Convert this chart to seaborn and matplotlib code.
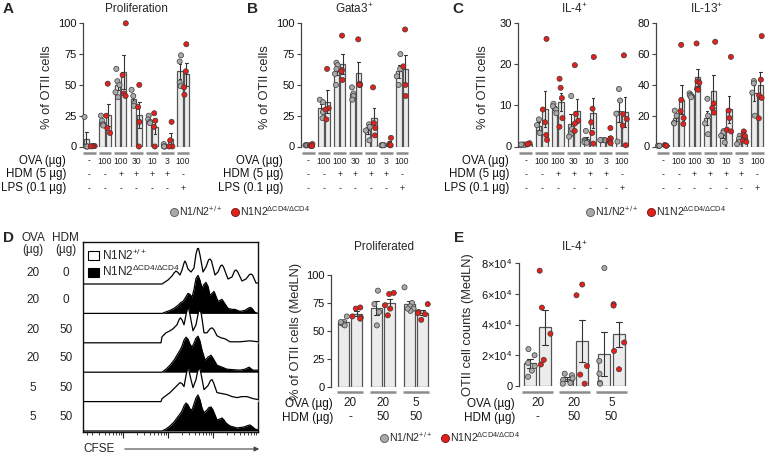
import numpy as np
import pandas as pd
import matplotlib
matplotlib.use('Agg')
import matplotlib.pyplot as plt
import seaborn as sns
from matplotlib.transforms import blended_transform_factory
from matplotlib.lines import Line2D
from matplotlib.patches import Patch

np.random.seed(7)
sns.set_theme(style='white')
plt.rcParams['font.family'] = ['Liberation Sans', 'DejaVu Sans']
plt.rcParams['mathtext.fontset'] = 'custom'
plt.rcParams['mathtext.rm'] = 'Liberation Sans'
plt.rcParams['mathtext.it'] = 'Liberation Sans:italic'
plt.rcParams['mathtext.bf'] = 'Liberation Sans:bold'

# ---------------- data ----------------
genotypes = ['wt', 'ko']
wt_label = r'N1/N2$^{\mathregular{+/+}}$'
ko_label = r'N1N2$^{\mathregular{\Delta CD4/\Delta CD4}}$'

ova_abc = ['-', '100', '100', '30', '10', '3', '100']
hdm_abc = ['-', '-', '+', '+', '+', '+', '-']
lps_abc = ['-', '-', '-', '-', '-', '-', '+']

prolif_wt = [[24, 0, 0, 0], [25, 21, 18, 17], [63, 53, 50, 44, 40], [46, 41, 35, 33],
             [25, 22, 20, 19], [2, 0, 0, 0], [74, 69, 52, 49]]
prolif_ko = [[0.4, 0.3, 0.2, 0.1], [51, 25, 15, 11], [100, 58, 43, 41], [50, 32, 20, 0],
             [27, 21, 16, 0], [20, 5, 0, 0], [83, 61, 48, 42]]
gata3_wt = [[1, 1, 1, 1], [38, 36, 28, 23], [68, 66, 63, 59, 50], [48, 43, 41, 38],
            [18, 16, 13, 5], [1, 1, 1, 1], [75, 63, 57, 50]]
gata3_ko = [[2, 1, 0.5, 0.3], [63, 31, 30, 22], [90, 62, 61, 54], [87, 51, 50, 50],
            [48, 19, 15, 9], [7, 2, 1, 1], [95, 65, 50, 41]]
il4_wt = [[0.5, 0.4, 0.3, 0.5], [6.6, 5.2, 3.3], [10.4, 9.8, 9.0, 8.1], [12.3, 4.3, 3.0, 2.4],
          [3.8, 1.6, 1.3, 1.0, 0.9], [1.6, 1.5, 1.5, 1.6], [14, 11.2, 8, 1.2]]
il4_ko = [[0.8, 0.5, 0.6], [26.2, 9, 5.9, 2.8, 1.6], [16.5, 14.3, 11.8, 6.9, 4.8],
          [19.8, 7.9, 6.3, 5.6, 3.8], [21.8, 9.2, 5.9, 3.3, 0.7], [4.5, 2.0, 1.5, 1.0, 0.8],
          [22.2, 7.9, 6.7, 5.1, 0.3]]
il13_wt = [[0.5, 0.5, 0.5], [23.3, 20, 15.3, 15], [34.5, 33.5, 33, 32], [31, 20, 15, 8],
           [10, 9, 7, 2.6], [7, 5, 3, 1.5], [42.5, 41, 35, 20]]
il13_ko = [[1, 0.5, 0.5], [66, 30.3, 22.9, 18.5, 14.6], [66.9, 42.3, 41.4, 37.5, 36.8],
           [68, 28, 25, 22], [58.2, 23.3, 18.5, 10.9, 9.8], [9.8, 7.5, 6.7, 3.8, 3.0],
           [71.7, 43.4, 33.1, 31.6, 18.3]]

ova_de = ['20', '20', '5']
hdm_de = ['-', '50', '50']
prolifd_wt = [[63, 58, 57, 56, 55, 58], [86, 74, 67, 55], [89, 75, 72, 70, 68, 70]]
prolifd_ko = [[71, 70, 62, 61, 63], [83, 84, 73, 70, 64], [74, 67, 66, 65, 60]]
il4e_wt = [[2.4e4, 2.0e4, 1.5e4, 1.3e4, 1.0e4, 0.6e4], [0.8e4, 0.7e4, 0.4e4, 0.2e4, 0.15e4, 0.5e4],
           [7.67e4, 1.63e4, 0.8e4, 0.2e4, 0.15e4]]
il4e_ko = [[7.5e4, 5.1e4, 3.4e4, 1.7e4, 1.4e4], [6.6e4, 5.9e4, 1.3e4, 0.74e4, 0.15e4],
           [5.32e4, 5.23e4, 2.83e4, 2.28e4, 1.09e4]]

# CFSE histograms (channel, count), rows top -> bottom
hist_ova = ['20', '20', '20', '20', '5', '5']
hist_hdm = ['0', '0', '50', '50', '50', '50']
hist_geno = ['wt', 'ko', 'wt', 'ko', 'wt', 'ko']
hist_x = [
    [0, 79, 82, 85, 89, 91, 93, 95, 97, 99, 101, 102, 103, 105, 108, 111, 113, 114.5, 115.5,
     117, 120, 123, 125.5, 127, 128.5, 132, 135, 137.5, 139, 140.5, 145, 149, 151.5, 153,
     154.5, 159, 163, 166.5, 168, 169.5, 173, 175],
    [0, 79, 83, 87, 91, 95, 98, 100, 102, 105, 107, 109, 111, 113, 115, 117, 119, 121, 123,
     125, 127, 129, 131, 133, 135, 137, 139, 141, 145, 149, 152, 157, 162, 165, 167, 169,
     172, 175],
    [0, 78, 79, 83, 87, 90, 94, 96, 97.5, 99, 101, 103, 104.5, 105.5, 107, 110, 113, 115.5,
     117, 118.5, 121, 124, 127, 129, 131, 134, 138, 142, 147, 152, 157, 162, 167, 171, 175],
    [0, 79, 83, 87, 91, 94, 97, 99, 101, 103, 105, 107, 109, 111, 113, 115, 117, 119, 122,
     125, 128, 130, 134, 139, 144, 150, 157, 162, 166, 170, 175],
    [0, 78, 79, 83, 87, 90, 94, 97, 99, 101, 103, 104.5, 105.5, 107, 110, 113, 115, 116.5,
     118, 121, 125, 127.5, 129, 130.5, 134, 139, 144, 149, 154, 159, 164, 170, 175],
    [0, 79, 83, 87, 91, 94, 97, 99, 101, 103, 105, 107, 109, 111, 113, 115, 117, 119, 121,
     124, 126, 128, 130, 134, 137, 139, 141, 143, 147, 154, 161, 165, 167, 169, 172, 175],
]
hist_y = [
    [0, 0, 2, 4, 8, 11, 13, 11.5, 9, 14, 21, 23, 21, 15, 12, 16, 30, 35.5, 35.5, 29, 12, 17,
     24, 25, 23, 9, 12, 18, 19, 17, 5, 7, 13, 14, 12.5, 3, 5, 9.5, 10, 9, 1, 1],
    [0, 0, 1.5, 3, 5, 8, 11, 12, 15, 20, 19, 16, 24, 35, 38, 33, 25, 29, 31, 27, 18, 20, 22,
     17, 12, 13, 14, 11, 5, 4, 4, 2, 3, 5, 6, 5, 1, 0],
    [0, 0, 6, 10, 12, 14, 18, 23, 25, 23, 18, 28, 35, 35, 28, 12, 18, 31, 33, 28, 10, 10, 14,
     15, 13, 7, 5, 4, 1, 1, 1, 1.5, 2, 1.5, 1],
    [0, 0, 3, 7, 12, 17, 22, 26, 32, 35, 33, 28, 25, 29, 34, 36, 31, 22, 12, 15, 17, 14, 7, 5,
     3, 2.5, 2, 3, 5, 2, 2],
    [0, 0, 3, 6, 9, 12, 16, 19, 18, 15, 26, 33.5, 33.5, 26, 14, 22, 32, 34, 28, 12, 16, 21,
     22, 19, 9, 8, 7, 5, 4, 5, 5, 3, 2],
    [0, 0, 2, 5, 9, 13, 17, 20, 25, 28, 26, 22, 21, 27, 33, 36, 31, 23, 18, 21, 23.5, 24, 21,
     11, 12, 13, 11, 8, 5, 3, 4, 5.5, 6, 4.5, 2, 1],
]

# ---------------- style ----------------
BAR_FILL = '#ececec'
BAR_EDGE = '#555555'
GRAY = '#a9a9a9'
RED = '#e3211c'
PT_EDGE = '#3a3a3a'
AX_COL = '#444444'
ULINE = '#8c8c8c'
YLAB_FS = 9.3

W, H = 767, 459
fig = plt.figure(figsize=(W / 100, H / 100), dpi=100)


def fx(px):
    return px / W


def fy(px):
    return 1 - px / H


def add_ax(l, t, r, b):
    return fig.add_axes([l / W, 1 - b / H, (r - l) / W, (b - t) / H])


def bar_panel(L, c0, pitch, top, bottom, wt, ko, ymax, yticks, yticklabels=None,
              jitter=0.28):
    n = len(wt)
    R = c0 + (n - 0.5) * pitch
    ax = add_ax(L, top, R, bottom)
    rows = []
    for i, (w, k) in enumerate(zip(wt, ko)):
        rows += [(i, 'wt', v) for v in w]
        rows += [(i, 'ko', v) for v in k]
    df = pd.DataFrame(rows, columns=['cond', 'geno', 'val'])
    sns.barplot(data=df, x='cond', y='val', hue='geno', hue_order=genotypes,
                palette={'wt': BAR_FILL, 'ko': BAR_FILL}, errorbar='se', capsize=0.35,
                err_kws={'color': '#333333', 'linewidth': 0.8}, edgecolor=BAR_EDGE,
                linewidth=0.9, gap=0.18, legend=False, ax=ax)
    sns.stripplot(data=df, x='cond', y='val', hue='geno', hue_order=genotypes,
                  palette={'wt': GRAY, 'ko': RED}, dodge=True, jitter=jitter, size=3.7,
                  edgecolor=PT_EDGE, linewidth=0.5, legend=False, ax=ax, zorder=5)
    for c in ax.collections:
        c.set_clip_on(False)
    ax.set_xlim((L - c0) / pitch, n - 0.5)
    ax.set_ylim(0, ymax)
    ax.set_yticks(yticks)
    if yticklabels is not None:
        ax.set_yticklabels(yticklabels)
    ax.set_xticks([])
    ax.set_xlabel('')
    ax.set_ylabel('')
    for s in ['top', 'right', 'bottom']:
        ax.spines[s].set_visible(False)
    ax.spines['left'].set_color(AX_COL)
    ax.spines['left'].set_linewidth(0.9)
    ax.tick_params(axis='y', left=True, length=3, width=0.8, color=AX_COL,
                   labelsize=8, pad=1.5, labelcolor='#111111')
    ax.patch.set_alpha(0)
    return ax


def under_rows(ax, uline_y, rows_y, rows, fs, half=0.41):
    tr = blended_transform_factory(ax.transData, fig.transFigure)
    n = len(rows[0])
    for i in range(n):
        ax.plot([i - half, i + half], [fy(uline_y)] * 2, transform=tr, color=ULINE,
                lw=1.8, clip_on=False, solid_capstyle='butt')
    for ry, vals in zip(rows_y, rows):
        for i, v in enumerate(vals):
            ax.text(i, fy(ry), v, transform=tr, ha='center', va='center', fontsize=fs,
                    color='#222222')


def row_labels(xr, ys, labels, fs=8.3):
    for y, t in zip(ys, labels):
        fig.text(fx(xr), fy(y), t, ha='right', va='center', fontsize=fs, color='#111111')


def dot_legend(x0, y, fs=7.6):
    handles = [Line2D([], [], marker='o', ls='', markersize=5.8, markerfacecolor=GRAY,
                      markeredgecolor='#555555', markeredgewidth=0.6),
               Line2D([], [], marker='o', ls='', markersize=5.8, markerfacecolor=RED,
                      markeredgecolor='#6a1010', markeredgewidth=0.6)]
    fig.legend(handles, [wt_label, ko_label], loc='center left',
               bbox_to_anchor=(fx(x0), fy(y)), ncol=2, frameon=False, fontsize=fs,
               handlelength=0.6, handletextpad=0.15, columnspacing=0.9, borderpad=0,
               borderaxespad=0)


# ---------------- panel A ----------------
axA = bar_panel(83, 89.5, 15.6, 23.3, 146.5, prolif_wt, prolif_ko, 100, [0, 25, 50, 75, 100])
under_rows(axA, 153, [161, 174.5, 188.5], [ova_abc, hdm_abc, lps_abc], 6.2)
row_labels(66, [161, 174.5, 188.5], ['OVA (µg)', 'HDM (5 µg)', 'LPS (0.1 µg)'])
fig.text(fx(136), fy(9), 'Proliferation', ha='center', va='center', fontsize=8.5)
fig.text(fx(47), fy(87), '% of OTII cells', rotation=90, ha='center', va='center',
         fontsize=YLAB_FS)
fig.text(fx(3), fy(9), 'A', ha='left', va='center', fontsize=11, fontweight='bold')

# ---------------- panel B ----------------
axB = bar_panel(301, 308.5, 15.6, 23.3, 146.5, gata3_wt, gata3_ko, 100, [0, 25, 50, 75, 100])
under_rows(axB, 153, [161, 174.5, 188.5], [ova_abc, hdm_abc, lps_abc], 6.2)
row_labels(283, [161, 174.5, 188.5], ['OVA (µg)', 'HDM (5 µg)', 'LPS (0.1 µg)'])
fig.text(fx(354), fy(9), r'Gata3$^{\mathregular{+}}$', ha='center', va='center', fontsize=8.5)
fig.text(fx(265), fy(87), '% of OTII cells', rotation=90, ha='center', va='center',
         fontsize=YLAB_FS)
fig.text(fx(247), fy(9), 'B', ha='left', va='center', fontsize=11, fontweight='bold')
dot_legend(171, 211)

# ---------------- panel C ----------------
axC1 = bar_panel(518, 525.7, 16.0, 23.3, 146.5, il4_wt, il4_ko, 30, [0, 10, 20, 30])
under_rows(axC1, 153, [161, 174.5, 188.5], [ova_abc, hdm_abc, lps_abc], 6.2)
row_labels(509, [161, 174.5, 188.5], ['OVA (µg)', 'HDM (5 µg)', 'LPS (0.1 µg)'])
fig.text(fx(574), fy(9), r'IL-4$^{\mathregular{+}}$', ha='center', va='center', fontsize=8.5)
fig.text(fx(483), fy(87), '% of OTII cells', rotation=90, ha='center', va='center',
         fontsize=YLAB_FS)
fig.text(fx(452), fy(9), 'C', ha='left', va='center', fontsize=11, fontweight='bold')

axC2 = bar_panel(656, 663, 15.7, 23.3, 146.5, il13_wt, il13_ko, 80, [0, 20, 40, 60, 80])
under_rows(axC2, 153, [161, 174.5, 188.5], [ova_abc, hdm_abc, lps_abc], 6.2)
fig.text(fx(707), fy(9), r'IL-13$^{\mathregular{+}}$', ha='center', va='center', fontsize=8.5)
dot_legend(587, 211)

# ---------------- panel D histograms ----------------
axH = add_ax(83, 242, 258, 432)
row_gap = 29.4
for k in range(6):
    off = 1 + (5 - k) * row_gap
    xs = np.array(hist_x[k], dtype=float)
    ys = np.array(hist_y[k], dtype=float)
    fc = 'white' if hist_geno[k] == 'wt' else 'black'
    axH.fill_between(xs, off, off + ys, color=fc, zorder=2 + k, lw=0)
    axH.plot(xs, off + ys, color='black', lw=0.9, zorder=2 + k, solid_joinstyle='round')
axH.set_xlim(0, 175)
axH.set_ylim(0, 190)
axH.set_yticks([])
majors = [40, 85, 130]
minors = []
for d in [-5, 40, 85, 130]:
    for m in range(2, 10):
        v = d + 45 * np.log10(m)
        if 0 < v < 175:
            minors.append(v)
minors.append(4)
axH.set_xticks(majors)
axH.set_xticklabels([])
axH.set_xticks(minors, minor=True)
axH.tick_params(axis='x', which='major', bottom=True, direction='out', length=4, width=0.8,
                color='#222222')
axH.tick_params(axis='x', which='minor', bottom=True, direction='out', length=2.5, width=0.6,
                color='#222222')
for s in axH.spines.values():
    s.set_color('#111111')
    s.set_linewidth(1.0)
    s.set_visible(True)
hl = [Patch(facecolor='white', edgecolor='black', lw=0.8),
      Patch(facecolor='black', edgecolor='black', lw=0.8)]
leg = axH.legend(hl, [r'N1N2$^{\mathregular{+/+}}$', ko_label], loc='upper left',
                 frameon=False, fontsize=8.5, handlelength=0.9, handleheight=0.9,
                 handletextpad=0.25, borderaxespad=0.25, labelspacing=0.15, borderpad=0.2)
leg.set_zorder(20)
fig.text(fx(83), fy(449), 'CFSE', ha='left', va='center', fontsize=8.5)
fig.add_artist(matplotlib.patches.FancyArrowPatch(
    (fx(122), fy(449)), (fx(262), fy(449)), transform=fig.transFigure,
    arrowstyle='-|>', mutation_scale=7, color='#444444', lw=0.8))

fig.text(fx(3), fy(238), 'D', ha='left', va='center', fontsize=11, fontweight='bold')
fig.text(fx(33), fy(238), 'OVA', ha='center', va='center', fontsize=8.5)
fig.text(fx(33), fy(250), '(µg)', ha='center', va='center', fontsize=8.5)
fig.text(fx(65), fy(238), 'HDM', ha='center', va='center', fontsize=8.5)
fig.text(fx(66), fy(250), '(µg)', ha='center', va='center', fontsize=8.5)
for yv, o, h in zip([273, 300, 330, 358, 388, 417], hist_ova, hist_hdm):
    fig.text(fx(33), fy(yv), o, ha='center', va='center', fontsize=8.5)
    fig.text(fx(66), fy(yv), h, ha='center', va='center', fontsize=8.5)

# ---------------- panel D right ----------------
axD = bar_panel(331, 350, 33, 275, 387, prolifd_wt, prolifd_ko, 100, [0, 25, 50, 75, 100],
                jitter=0.32)
under_rows(axD, 392, [403.5, 417.5], [ova_de, hdm_de], 8.5, half=0.4)
row_labels(333, [403.5, 417.5], ['OVA (µg)', 'HDM (µg)'], fs=8.5)
fig.text(fx(384), fy(247), 'Proliferated', ha='center', va='center', fontsize=8.5)
fig.text(fx(296), fy(331), '% of OTII cells (MedLN)', rotation=90, ha='center', va='center',
         fontsize=YLAB_FS)
dot_legend(381, 437)

# ---------------- panel E ----------------
e_ticks = [0, 2e4, 4e4, 6e4, 8e4]
e_labels = ['0'] + [r'%d×10$^{\mathregular{4}}$' % v for v in (2, 4, 6, 8)]
axE = bar_panel(519, 537.5, 37, 263, 386, il4e_wt, il4e_ko, 8e4, e_ticks, e_labels,
                jitter=0.32)
under_rows(axE, 392, [403.5, 417.5], [ova_de, hdm_de], 8.5, half=0.42)
row_labels(515, [403.5, 417.5], ['OVA (µg)', 'HDM (µg)'], fs=8.5)
fig.text(fx(574), fy(247), r'IL-4$^{\mathregular{+}}$', ha='center', va='center', fontsize=8.5)
fig.text(fx(468), fy(325), 'OTII cell counts (MedLN)', rotation=90, ha='center',
         va='center', fontsize=YLAB_FS)
fig.text(fx(454), fy(238), 'E', ha='left', va='center', fontsize=11, fontweight='bold')

fig.savefig('out.png', dpi=100)
